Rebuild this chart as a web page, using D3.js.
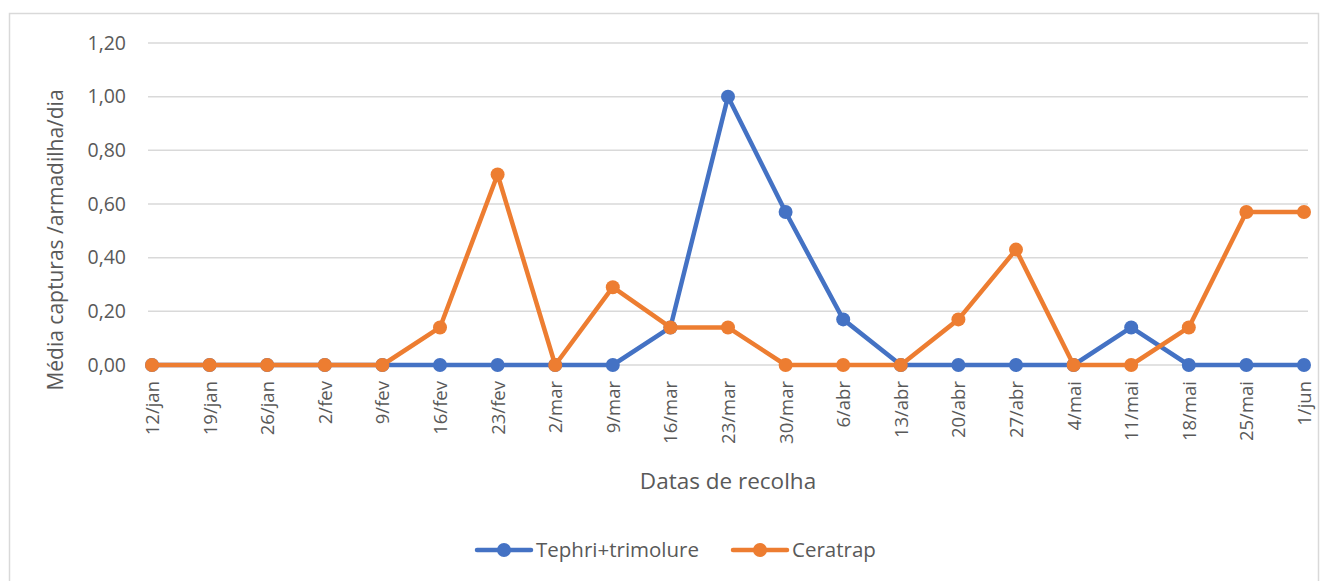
<!DOCTYPE html>
<html>
<head>
<meta charset="utf-8">
<script src="https://cdn.jsdelivr.net/npm/d3@7"></script>
<style>
  body { margin: 0; background: #fff; }
  text { font-family: "Open Sans", "Liberation Sans", sans-serif; fill: #595959; }
</style>
</head>
<body>
<div id="chart"></div>
<script>
var dates = ["12/jan","19/jan","26/jan","2/fev","9/fev","16/fev","23/fev","2/mar","9/mar","16/mar","23/mar","30/mar","6/abr","13/abr","20/abr","27/abr","4/mai","11/mai","18/mai","25/mai","1/jun"];
var tephri = [0,0,0,0,0,0,0,0,0,0.14,1.00,0.57,0.17,0,0,0,0,0.14,0,0,0];
var ceratrap = [0,0,0,0,0,0.14,0.71,0,0.29,0.14,0.14,0,0,0,0.17,0.43,0,0,0.14,0.57,0.57];
var yTicks = [0,0.2,0.4,0.6,0.8,1.0,1.2];
var seriesNames = ["Tephri+trimolure","Ceratrap"];
var colors = ["#4472c4","#ed7d31"];

var W = 1325, H = 581;
var plotLeft = 152, plotRight = 1304, plotTop = 43, plotBottom = 365;

var svg = d3.select("#chart").append("svg")
    .attr("width", W).attr("height", H);

svg.append("rect")
    .attr("x", 9.5).attr("y", 13.5)
    .attr("width", 1309).attr("height", 600)
    .attr("fill", "#fff").attr("stroke", "#d9d9d9").attr("stroke-width", 1.5);

var x = d3.scalePoint().domain(dates).range([plotLeft, plotRight]);
var y = d3.scaleLinear().domain([0, 1.2]).range([plotBottom, plotTop]);
var fmt = function(d){ return d3.format(".2f")(d).replace(".", ","); };

// gridlines
svg.append("g").selectAll("line")
    .data(yTicks)
    .enter().append("line")
    .attr("x1", 148).attr("x2", 1308)
    .attr("y1", function(d){ return y(d); })
    .attr("y2", function(d){ return y(d); })
    .attr("stroke", "#d9d9d9").attr("stroke-width", 1.5);

// y axis labels
var yAxis = svg.append("g")
    .attr("transform", "translate(126,0)")
    .call(d3.axisLeft(y).tickValues(yTicks).tickFormat(fmt).tickSize(0).tickPadding(0));
yAxis.select(".domain").remove();
yAxis.selectAll("text").style("font-size", "19.5px").attr("fill", "#595959")
    .attr("font-family", null);

// x axis labels
var xAxis = svg.append("g")
    .attr("transform", "translate(0," + (plotBottom + 16) + ")")
    .call(d3.axisBottom(x).tickSize(0).tickPadding(0));
xAxis.select(".domain").remove();
xAxis.selectAll("text")
    .style("font-size", "18.5px").attr("fill", "#595959")
    .attr("font-family", null)
    .attr("text-anchor", "end")
    .attr("transform", "rotate(-90)")
    .attr("x", 0).attr("y", 0).attr("dy", "0.35em");

// axis titles
svg.append("text")
    .attr("transform", "translate(56,240) rotate(-90)")
    .attr("text-anchor", "middle")
    .attr("dy", "0.35em")
    .style("font-size", "21px")
    .text("Média capturas /armadilha/dia");

svg.append("text")
    .attr("x", 728).attr("y", 481)
    .attr("text-anchor", "middle")
    .attr("dy", "0.35em")
    .style("font-size", "22.5px")
    .text("Datas de recolha");

var line = d3.line()
    .x(function(d, i){ return x(dates[i]); })
    .y(function(d){ return y(d); });

[tephri, ceratrap].forEach(function(vals, s){
    var g = svg.append("g");
    g.append("path")
        .datum(vals)
        .attr("d", line)
        .attr("fill", "none")
        .attr("stroke", colors[s])
        .attr("stroke-width", 4.5)
        .attr("stroke-linejoin", "round");
    g.selectAll("circle")
        .data(vals)
        .enter().append("circle")
        .attr("cx", function(d, i){ return x(dates[i]); })
        .attr("cy", function(d){ return y(d); })
        .attr("r", 7)
        .attr("fill", colors[s]);
});

// legend
var legendPos = [477, 733];
seriesNames.forEach(function(name, s){
    var lx = legendPos[s];
    var lg = svg.append("g");
    lg.append("line")
        .attr("x1", lx).attr("x2", lx + 54)
        .attr("y1", 550).attr("y2", 550)
        .attr("stroke", colors[s]).attr("stroke-width", 4.5).attr("stroke-linecap", "round");
    lg.append("circle")
        .attr("cx", lx + 27).attr("cy", 550).attr("r", 7)
        .attr("fill", colors[s]);
    lg.append("text")
        .attr("x", lx + 59).attr("y", 550)
        .attr("dy", "0.35em")
        .style("font-size", "20.5px")
        .text(name);
});
</script>
</body>
</html>
